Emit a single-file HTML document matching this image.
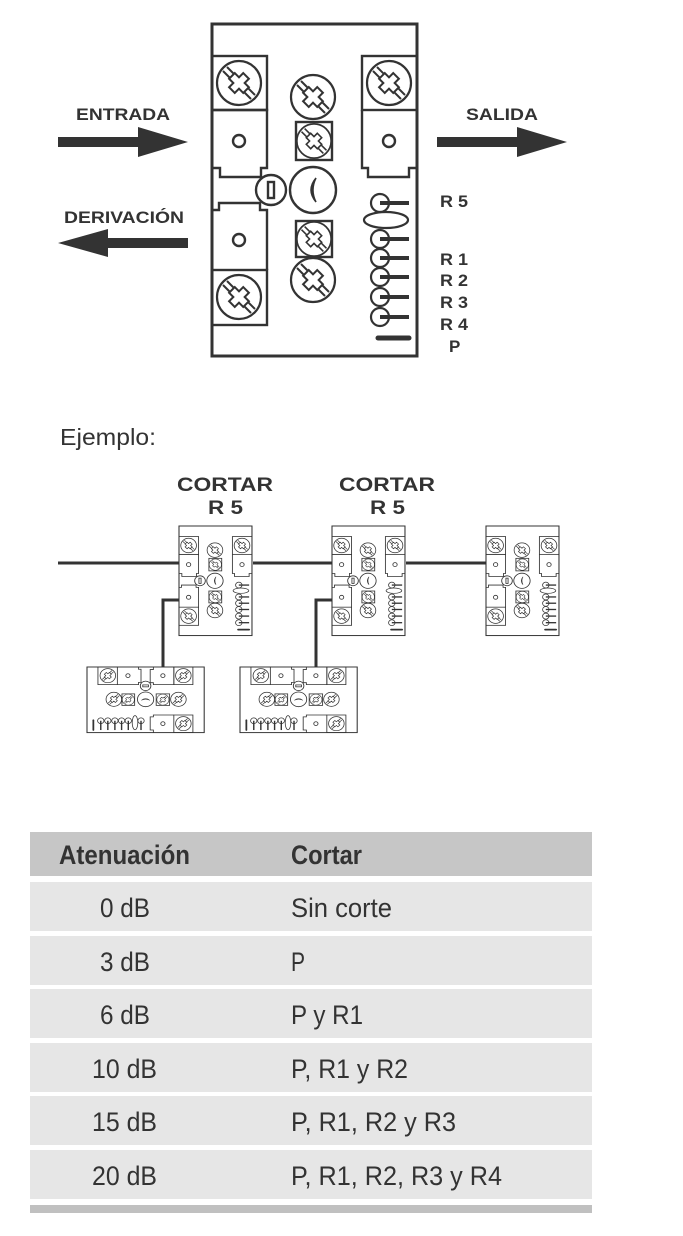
<!DOCTYPE html>
<html><head><meta charset="utf-8"><style>
html,body{margin:0;padding:0;background:#fff;}
svg{display:block;}
</style></head><body>
<svg width="683" height="1236" viewBox="0 0 683 1236" xmlns="http://www.w3.org/2000/svg" font-family="Liberation Sans, sans-serif">
<defs>
  <g id="scr">
    <circle r="22" fill="#fff" stroke="#333" stroke-width="2.2"/>
    <line x1="-16" y1="-12" x2="12" y2="16" stroke="#333" stroke-width="2"/>
    <line x1="-12" y1="-16" x2="16" y2="12" stroke="#333" stroke-width="2"/>
    <path d="M-4,-10 L4,-10 L4,-4 L10,-4 L10,4 L4,4 L4,10 L-4,10 L-4,4 L-10,4 L-10,-4 L-4,-4 Z" fill="#fff" stroke="#333" stroke-width="2" transform="rotate(45)"/>
  </g>
  <g id="dev" fill="none" stroke="#333" stroke-width="2.4">
    <rect x="0" y="0" width="205" height="332" fill="#fff" stroke-width="3"/>
    <rect x="0" y="32" width="55" height="54"/>
    <use href="#scr" x="27" y="59"/>
    <path d="M0,86 H55 V144 H49 V153 H8 V144 H0"/>
    <circle cx="27" cy="117" r="6"/>
    <path d="M0,186 H7 V179 H48 V186 H55 V246"/>
    <circle cx="27" cy="216" r="6"/>
    <rect x="0" y="246" width="55" height="55"/>
    <use href="#scr" x="27" y="273"/>
    <rect x="150" y="32" width="55" height="54"/>
    <use href="#scr" x="177" y="59"/>
    <path d="M150,86 V144 H156 V153 H197 V144 H205"/>
    <circle cx="177" cy="117" r="6"/>
    <use href="#scr" x="101" y="73"/>
    <rect x="84" y="98" width="36" height="38"/>
    <use href="#scr" x="102" y="117" transform="translate(102 117) scale(0.78) translate(-102 -117)"/>
    <circle cx="101" cy="166" r="23" fill="#fff"/>
    <path d="M104,154 Q94,166 104,178 Q98,166 104,154 Z" fill="#333" stroke-width="1.5"/>
    <circle cx="59" cy="166" r="15" fill="#fff"/>
    <rect x="56" y="158" width="6" height="16"/>
    <rect x="84" y="197" width="36" height="36"/>
    <use href="#scr" x="102" y="215" transform="translate(102 215) scale(0.78) translate(-102 -215)"/>
    <use href="#scr" x="101" y="256"/>
    <g stroke-width="2.2">
      <line x1="168" y1="179" x2="197" y2="179" stroke-width="4"/><circle cx="168" cy="179" r="9"/>
      <ellipse cx="174" cy="196" rx="22" ry="8" fill="#fff"/>
      <line x1="168" y1="215" x2="197" y2="215" stroke-width="4"/><circle cx="168" cy="215" r="9"/>
      <line x1="168" y1="234" x2="197" y2="234" stroke-width="4"/><circle cx="168" cy="234" r="9"/>
      <line x1="168" y1="253" x2="197" y2="253" stroke-width="4"/><circle cx="168" cy="253" r="9"/>
      <line x1="168" y1="273" x2="197" y2="273" stroke-width="4"/><circle cx="168" cy="273" r="9"/>
      <line x1="168" y1="293" x2="197" y2="293" stroke-width="4"/><circle cx="168" cy="293" r="9"/>
      <line x1="166" y1="314" x2="197" y2="314" stroke-width="5" stroke-linecap="round"/>
    </g>
  </g>
</defs>

<use href="#dev" x="212" y="24"/>
<g fill="#333">
  <polygon points="58,137 138,137 138,127 188,142 138,157 138,147 58,147"/>
  <polygon points="437,137 517,137 517,127 567,142 517,157 517,147 437,147"/>
  <polygon points="188,238 108,238 108,229 58,243 108,257 108,248 188,248"/>
</g>
<g font-weight="bold" font-size="17" fill="#333">
  <text x="76" y="120" textLength="94" lengthAdjust="spacingAndGlyphs">ENTRADA</text>
  <text x="466" y="120" textLength="72" lengthAdjust="spacingAndGlyphs">SALIDA</text>
  <text x="64" y="223" textLength="120" lengthAdjust="spacingAndGlyphs">DERIVACIÓN</text>
  <text x="440" y="207" textLength="28" lengthAdjust="spacingAndGlyphs">R 5</text>
  <text x="440" y="265" textLength="28" lengthAdjust="spacingAndGlyphs">R 1</text>
  <text x="440" y="286" textLength="28" lengthAdjust="spacingAndGlyphs">R 2</text>
  <text x="440" y="308" textLength="28" lengthAdjust="spacingAndGlyphs">R 3</text>
  <text x="440" y="330" textLength="28" lengthAdjust="spacingAndGlyphs">R 4</text>
  <text x="449" y="352">P</text>
</g>

<text x="60" y="445" font-size="23" fill="#333" textLength="96" lengthAdjust="spacingAndGlyphs">Ejemplo:</text>

<g font-weight="bold" font-size="19" fill="#333">
  <text x="177" y="491" textLength="96" lengthAdjust="spacingAndGlyphs">CORTAR</text>
  <text x="208" y="514" textLength="35" lengthAdjust="spacingAndGlyphs">R 5</text>
  <text x="339" y="491" textLength="96" lengthAdjust="spacingAndGlyphs">CORTAR</text>
  <text x="370" y="514" textLength="35" lengthAdjust="spacingAndGlyphs">R 5</text>
</g>
<g stroke="#333" stroke-width="3" fill="none">
  <line x1="58" y1="563" x2="180" y2="563"/>
  <line x1="253" y1="563" x2="333" y2="563"/>
  <line x1="406" y1="563" x2="487" y2="563"/>
  <polyline points="180,600 163,600 163,668"/>
  <polyline points="333,600 316,600 316,668"/>
</g>
<use href="#dev" transform="translate(179 526) scale(0.356 0.33)"/>
<use href="#dev" transform="translate(332 526) scale(0.356 0.33)"/>
<use href="#dev" transform="translate(486 526) scale(0.356 0.33)"/>
<use href="#dev" transform="translate(87 667) scale(0.353 0.32) translate(332 0) rotate(90)"/>
<use href="#dev" transform="translate(240 667) scale(0.353 0.32) translate(332 0) rotate(90)"/>

<rect x="30" y="832" width="562" height="44" fill="#c6c6c6"/>
<g fill="#e6e6e6">
  <rect x="30" y="882" width="562" height="49"/>
  <rect x="30" y="936" width="562" height="49"/>
  <rect x="30" y="989" width="562" height="49"/>
  <rect x="30" y="1043" width="562" height="49"/>
  <rect x="30" y="1096" width="562" height="49"/>
  <rect x="30" y="1150" width="562" height="49"/>
</g>
<rect x="30" y="1205" width="562" height="8" fill="#c0c0c0"/>
<g fill="#333" font-size="27">
  <text x="59" y="864" font-weight="bold" textLength="131" lengthAdjust="spacingAndGlyphs">Atenuación</text>
  <text x="291" y="864" font-weight="bold" textLength="71" lengthAdjust="spacingAndGlyphs">Cortar</text>
  <text x="100" y="917" textLength="50" lengthAdjust="spacingAndGlyphs">0 dB</text>
  <text x="291" y="917" textLength="101" lengthAdjust="spacingAndGlyphs">Sin corte</text>
  <text x="100" y="971" textLength="50" lengthAdjust="spacingAndGlyphs">3 dB</text>
  <text x="291" y="971" textLength="14" lengthAdjust="spacingAndGlyphs">P</text>
  <text x="100" y="1024" textLength="50" lengthAdjust="spacingAndGlyphs">6 dB</text>
  <text x="291" y="1024" textLength="72" lengthAdjust="spacingAndGlyphs">P y R1</text>
  <text x="92" y="1078" textLength="65" lengthAdjust="spacingAndGlyphs">10 dB</text>
  <text x="291" y="1078" textLength="117" lengthAdjust="spacingAndGlyphs">P, R1 y R2</text>
  <text x="92" y="1131" textLength="65" lengthAdjust="spacingAndGlyphs">15 dB</text>
  <text x="291" y="1131" textLength="165" lengthAdjust="spacingAndGlyphs">P, R1, R2 y R3</text>
  <text x="92" y="1185" textLength="65" lengthAdjust="spacingAndGlyphs">20 dB</text>
  <text x="291" y="1185" textLength="211" lengthAdjust="spacingAndGlyphs">P, R1, R2, R3 y R4</text>
</g>
</svg>
</body></html>
